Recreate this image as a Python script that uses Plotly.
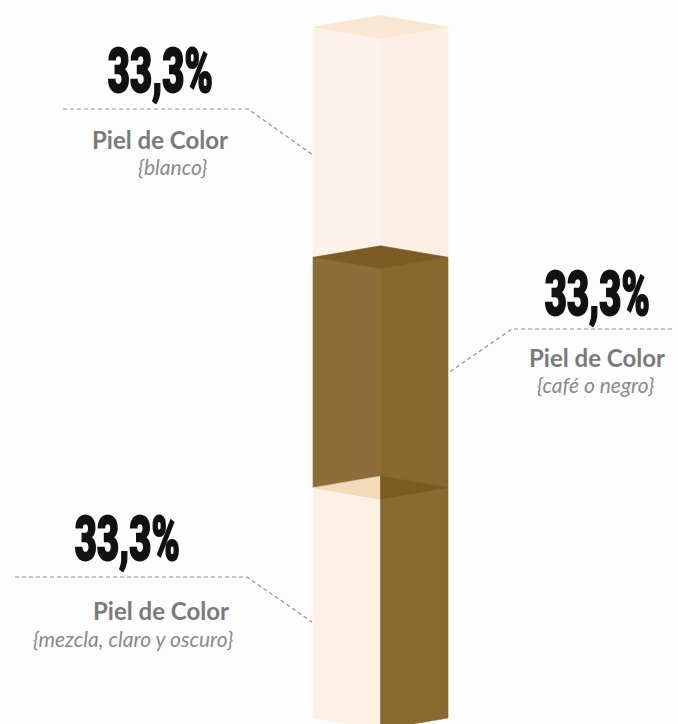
import plotly.graph_objects as go

# ---------------- data ----------------
categories = ["blanco", "café o negro", "mezcla, claro y oscuro"]   # top -> bottom
values = [33.3, 33.3, 33.3]
value_labels = ["33,3%", "33,3%", "33,3%"]
titles = ["Piel de Color", "Piel de Color", "Piel de Color"]
subtitles = ["{blanco}", "{café o negro}", "{mezcla, claro y oscuro}"]

# ---------------- style ----------------
W, H = 678, 724
CX, HW = 380.5, 67.5            # column centre / half width (px on x axis)
BOTTOM_PX, TOP_PX = 718, 27
total = sum(values)
k = (BOTTOM_PX - TOP_PX) / total          # px per unit
y0 = -(H - BOTTOM_PX) / k
y1 = y0 + H / k
D = 11.5 / k                               # perspective depth (data units)

face_colors = [
    dict(left="#fef3ea", right="#fdefe3", cap="#fbe6d2"),
    dict(left="#8d6e3b", right="#87692f", cap="#7b5c25"),
    dict(left="#fdf0e5", right="#886a2f", cap_left="#f4dab9", cap_right="#7a5b23"),
]

fig = go.Figure()


def poly(xs, ys, color):
    fig.add_trace(go.Scatter(
        x=xs + [xs[0]], y=ys + [ys[0]], mode="lines", fill="toself",
        fillcolor=color, line=dict(color=color, width=0.6),
        hoverinfo="skip", showlegend=False))


# cumulative bounds (stack from bottom: last category at bottom)
bounds = []
acc = 0.0
for v in reversed(values):
    bounds.append((acc, acc + v))
    acc += v
bounds = list(reversed(bounds))   # aligned with categories (top -> bottom)

for i, (b, t) in enumerate(bounds):
    c = face_colors[i]
    poly([CX - HW, CX, CX, CX - HW], [b, b - D, t - D, t], c["left"])
    poly([CX, CX + HW, CX + HW, CX], [b - D, b, t, t - D], c["right"])
    if "cap" in c:
        poly([CX - HW, CX, CX + HW, CX], [t, t + D, t, t - D], c["cap"])
    else:
        poly([CX - HW, CX, CX], [t, t + D, t - D], c["cap_left"])
        poly([CX, CX + HW, CX], [t + D, t, t - D], c["cap_right"])

# ---------------- labels ----------------
label_pos = [
    dict(val=(160, 70), title=(160, 139), sub=(172, 166),
         leader=[(63, 109), (248, 109), (313, 155)]),
    dict(val=(597, 293), title=(597, 357), sub=(595, 385),
         leader=[(672, 329), (512, 329), (448, 373)]),
    dict(val=(127, 538), title=(161, 610), sub=(133, 638),
         leader=[(15, 577), (247, 577), (312, 622)]),
]


def px(x, y):
    return x / W, 1 - y / H


annotations = []
shapes = []
for i, lp in enumerate(label_pos):
    x, y = px(*lp["val"])
    annotations.append(dict(
        x=x, y=y, xref="paper", yref="paper", showarrow=False,
        xanchor="center", yanchor="middle",
        text=value_labels[i],
        font=dict(family="Roboto", size=62, color="#111111", weight=900)))
    x, y = px(*lp["title"])
    annotations.append(dict(
        x=x, y=y, xref="paper", yref="paper", showarrow=False,
        xanchor="center", yanchor="middle", text=titles[i],
        font=dict(family="Lato", size=24, color="#7a7a7a", weight="bold")))
    x, y = px(*lp["sub"])
    annotations.append(dict(
        x=x, y=y, xref="paper", yref="paper", showarrow=False,
        xanchor="center", yanchor="middle", text=subtitles[i],
        font=dict(family="Lato", size=21, color="#8a8a8a", style="italic")))
    pts = [px(*p) for p in lp["leader"]]
    path = "M {} {} L {} {} L {} {}".format(pts[0][0], pts[0][1], pts[1][0], pts[1][1], pts[2][0], pts[2][1])
    shapes.append(dict(type="path", path=path, xref="paper", yref="paper",
                       line=dict(color="#909090", width=1.2, dash="4px,3px")))

fig.update_layout(
    width=W, height=H,
    margin=dict(l=0, r=0, t=0, b=0),
    paper_bgcolor="#fdfdfd", plot_bgcolor="#fdfdfd",
    xaxis=dict(range=[0, W], visible=False, fixedrange=True),
    yaxis=dict(range=[y0, y1], visible=False, fixedrange=True),
    annotations=annotations, shapes=shapes,
    showlegend=False, hovermode=False,
)

# remove the page margin and condense the big percentage figures horizontally
post = """
document.body.style.margin='0';
var gd=document.getElementById('{plot_id}');
gd.querySelectorAll('text.annotation-text').forEach(function(t){
  if(t.textContent.indexOf('%')>=0){
    var b=t.getBBox(); var cx=b.x+b.width/2; var s=105/b.width;
    t.setAttribute('transform','translate('+cx+',0) scale('+s+',1) translate('+(-cx)+',0)');
    t.style.stroke='#111111'; t.style.strokeWidth='2px'; t.style.paintOrder='stroke';
  }
});
"""

fig.write_html("out.html", config=dict(displayModeBar=False), post_script=post)
